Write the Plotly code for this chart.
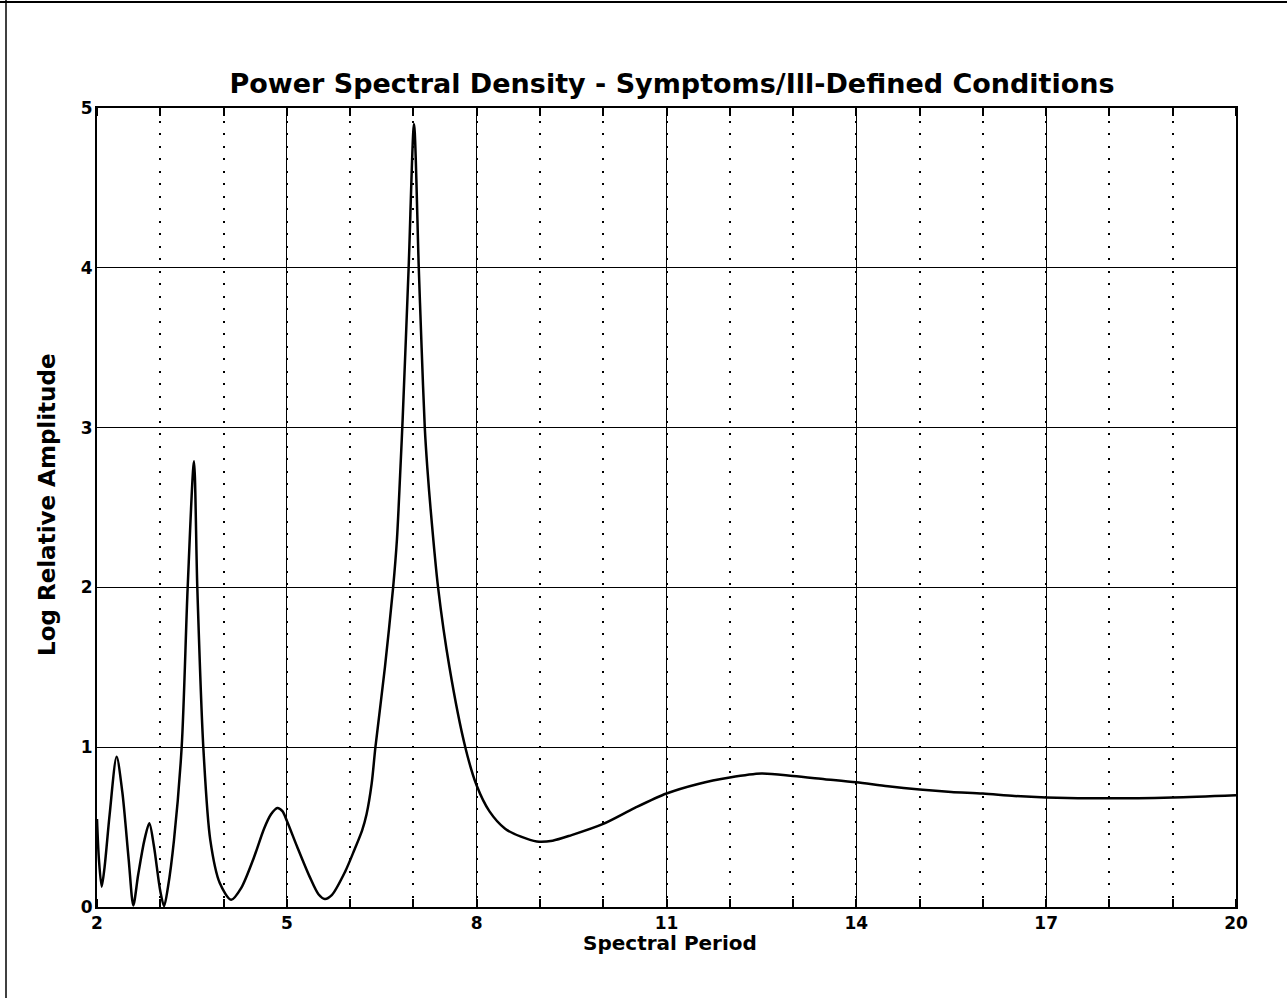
import plotly.graph_objects as go

# Spectral period (x) and log relative amplitude (y)
period = [2.0, 2.03, 2.074, 2.12, 2.2, 2.31, 2.4, 2.5, 2.574, 2.65, 2.75, 2.827, 2.9, 3.0, 3.06,
          3.12, 3.217, 3.338, 3.433, 3.533, 3.585, 3.68, 3.79, 3.94, 4.12, 4.28, 4.48, 4.64, 4.75,
          4.85, 4.93, 5.0, 5.16, 5.36, 5.5, 5.6, 5.71, 5.92, 6.07, 6.19, 6.26, 6.34, 6.40, 6.55,
          6.68, 6.74, 6.79, 6.83, 6.925, 7.01, 7.085, 7.13, 7.18, 7.22, 7.27, 7.39, 7.57, 7.82,
          8.0, 8.2, 8.45, 8.7, 8.95, 9.2, 9.5, 10.0, 10.5, 11.0, 11.5, 12.0, 12.5, 13.0, 13.5,
          14.0, 14.5, 15.0, 15.5, 16.0, 16.5, 17.0, 18.0, 19.0, 20.0]
amplitude = [0.55, 0.30, 0.127, 0.25, 0.58, 0.94, 0.72, 0.30, 0.01, 0.20, 0.42, 0.524, 0.38, 0.10, 0.005,
             0.12, 0.42, 1.0, 2.0, 2.79, 2.0, 1.0, 0.42, 0.15, 0.045, 0.12, 0.31, 0.49, 0.58,
             0.62, 0.60, 0.54, 0.38, 0.19, 0.08, 0.05, 0.074, 0.22, 0.36, 0.48, 0.58, 0.77, 1.0, 1.5,
             2.0, 2.3, 2.7, 3.05, 4.0, 4.9, 4.0, 3.5, 3.0, 2.75, 2.5, 2.0, 1.5, 1.0,
             0.76, 0.60, 0.49, 0.44, 0.41, 0.415, 0.45, 0.52, 0.62, 0.71, 0.77, 0.81, 0.835, 0.82, 0.80,
             0.78, 0.755, 0.735, 0.72, 0.71, 0.695, 0.686, 0.68, 0.686, 0.70]

x_ticks = [2, 5, 8, 11, 14, 17, 20]
y_ticks = [0, 1, 2, 3, 4, 5]

title_text = "Power Spectral Density - Symptoms/Ill-Defined Conditions"
x_title = "Spectral Period"
y_title = "Log Relative Amplitude"

FONT = "DejaVu Sans"

fig = go.Figure()
fig.add_trace(go.Scatter(
    x=period, y=amplitude, mode="lines",
    line=dict(color="black", width=2.5, shape="spline", smoothing=0.8),
    showlegend=False, hoverinfo="x+y",
))

axis_common = dict(
    showline=True, linecolor="black", linewidth=2, mirror="ticks",
    showgrid=True, gridcolor="black", gridwidth=1.3,
    zeroline=False,
    tickfont=dict(family=FONT, size=17, color="black", weight="bold"),
)

fig.update_xaxes(
    range=[2, 20], tickvals=x_ticks, ticks="outside", ticklen=0, ticklabelstandoff=0,
    minor=dict(dtick=1, tick0=2, showgrid=True, griddash="2px,10.5px", gridcolor="black",
               gridwidth=2, ticks="inside", ticklen=8, tickcolor="black", tickwidth=1.5),
    **axis_common,
)
fig.update_yaxes(
    range=[0, 5], tickvals=y_ticks, ticks="outside", ticklen=0, ticklabelstandoff=-1,
    **axis_common,
)

L, R, T, B = 97, 51, 108, 91
W, H = 1287, 998
pw, ph = W - L - R, H - T - B

def px_to_paper_x(px):
    return (px - L) / pw

def px_to_paper_y(py):
    return (H - B - py) / ph

shapes = [
    dict(type="line", xref="paper", yref="paper",
         x0=px_to_paper_x(0), x1=px_to_paper_x(W), y0=px_to_paper_y(2), y1=px_to_paper_y(2),
         line=dict(color="black", width=2)),
    dict(type="line", xref="paper", yref="paper",
         x0=px_to_paper_x(6), x1=px_to_paper_x(6), y0=px_to_paper_y(0), y1=px_to_paper_y(H),
         line=dict(color="black", width=1.5)),
]

annotations = [
    dict(text=x_title, xref="paper", yref="paper", x=px_to_paper_x(670), y=px_to_paper_y(943),
         xanchor="center", yanchor="middle", showarrow=False,
         font=dict(family=FONT, size=20, color="black", weight="bold")),
    dict(text=y_title, xref="paper", yref="paper", x=px_to_paper_x(47), y=px_to_paper_y(505),
         xanchor="center", yanchor="middle", showarrow=False, textangle=-90,
         font=dict(family=FONT, size=23, color="black", weight="bold")),
]

fig.update_layout(
    width=W, height=H,
    margin=dict(l=L, r=R, t=T, b=B),
    paper_bgcolor="white", plot_bgcolor="white",
    title=dict(text=title_text, x=672 / W, xanchor="center",
               y=1 - 84 / H, yanchor="middle",
               font=dict(family=FONT, size=27, color="black", weight="bold")),
    shapes=shapes,
    annotations=annotations,
)

fig.write_html("out.html", config={"displayModeBar": False},
               post_script="document.body.style.margin='0';")
